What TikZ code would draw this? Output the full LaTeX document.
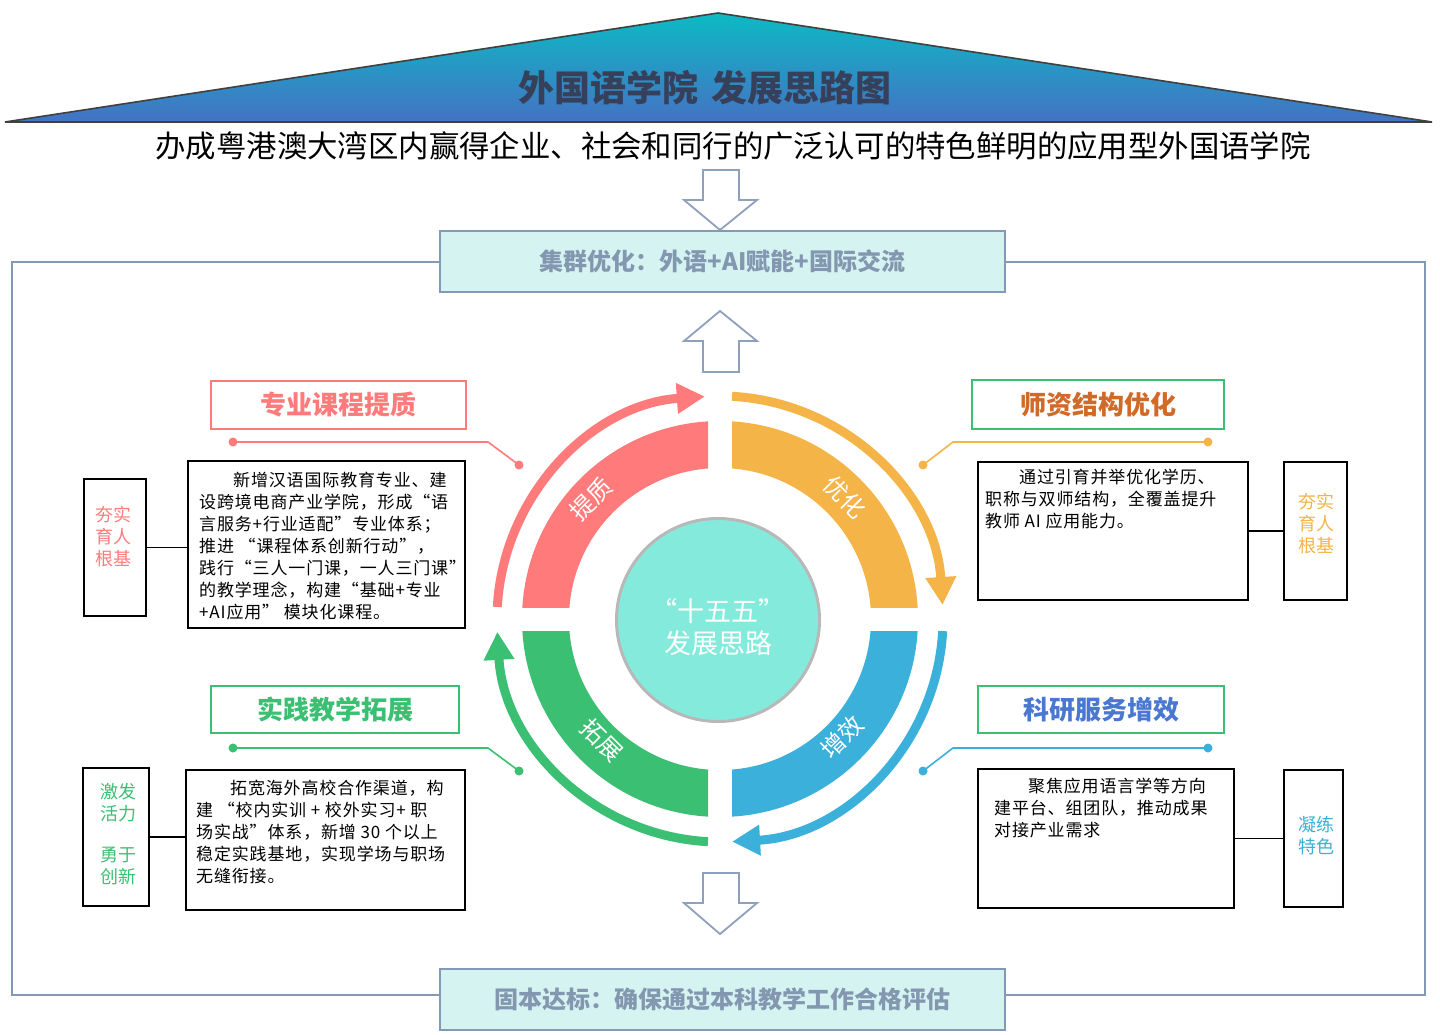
\documentclass[tikz,border=0pt]{standalone}
\usepackage{fontspec}
\setmainfont{Noto Sans CJK SC}
\newfontfamily\bodyfam[LetterSpace=5]{Noto Sans CJK SC}
\usetikzlibrary{arrows.meta}
\definecolor{cred}{HTML}{FF7B7B}
\definecolor{corange}{HTML}{F4B447}
\definecolor{cblue}{HTML}{3AB0DA}
\definecolor{cgreen}{HTML}{3BBF72}
\definecolor{frameblue}{HTML}{8499B5}
\definecolor{arrowblue}{HTML}{8EA0BC}
\definecolor{boxfill}{HTML}{D5F4F1}
\definecolor{boxtext}{HTML}{8497B0}
\definecolor{circfill}{HTML}{84EBDC}
\definecolor{circline}{HTML}{B8B8B8}
\definecolor{titlecol}{HTML}{36405A}
\definecolor{teachcol}{HTML}{D06A28}
\definecolor{scicol}{HTML}{4A78D0}
\definecolor{trtop}{HTML}{0CBAC4}
\definecolor{trmid}{HTML}{2C78C8}
\definecolor{trbot}{HTML}{4472C4}
\newcommand\bodyfont{\bodyfam\fontsize{17}{22}\selectfont}
\newcommand\sidefont{\fontsize{18}{22}\selectfont}
\begin{document}
\begin{tikzpicture}[x=1pt,y=-1pt,
  tbox/.style={draw=black, line width=1.2pt, fill=white, inner sep=0pt},
  qtitle/.style={draw=#1, line width=2pt, fill=white, inner sep=0pt},
  bandbox/.style={draw=frameblue, line width=2pt, fill=boxfill, inner sep=0pt,
     minimum width=565pt, minimum height=61pt, text=boxtext,
     font=\fontsize{24}{27}\selectfont\bfseries},
  bodytext/.style={anchor=north west, align=left, inner sep=0pt, font=\bodyfont},
  sidetext/.style={align=center, inner sep=0pt, font=\sidefont, text=#1},
  hollow/.style={draw=arrowblue, line width=1.8pt, fill=white, line join=miter},
  ringarrow/.style={draw=#1, line width=9pt, -{Triangle[length=28pt,width=29pt]}},
  ringlabel/.style={text=white, inner sep=0pt, font=\fontsize{24}{26}\selectfont},
  callout/.style={draw=#1, line width=1.6pt},
  dot/.style={fill=#1}
]
\useasboundingbox (0,0) rectangle (1440,1035);
\fill[white] (0,0) rectangle (1440,1035);

% roof
\shade[top color=trtop, middle color=trmid, bottom color=trbot] (718,13) -- (1432,122) -- (5,122) -- cycle;
\draw[draw=black!75, line width=1.6pt, line join=miter] (718,13) -- (1432,122) -- (5,122) -- cycle;
\node[text=titlecol, font=\fontsize{36}{40}\selectfont\bfseries] (title) at (705,88) {外国语学院\hspace{0.35em}发展思路图};
\node[text=black, font=\fontsize{30.4}{34}\selectfont] (subtitle) at (733,146) {办成粤港澳大湾区内赢得企业、社会和同行的广泛认可的特色鲜明的应用型外国语学院};

% frame
\draw[draw=frameblue, line width=2.5pt] (12,262) rectangle (1425,995);

% hollow block arrows
\draw[hollow] (703,170) -- (739,170) -- (739,200) -- (757,200) -- (720,230) -- (684,200) -- (703,200) -- cycle;
\draw[hollow] (720,311) -- (757,341) -- (739,341) -- (739,372) -- (703,372) -- (703,341) -- (684,341) -- cycle;
\draw[hollow] (703,873) -- (739,873) -- (739,903) -- (757,903) -- (720,934) -- (684,903) -- (703,903) -- cycle;

% band boxes
\node[bandbox] (topband) at (722.5,261.5) {集群优化：外语+AI赋能+国际交流};
\node[bandbox] (botband) at (722.5,999.5) {固本达标：确保通过本科教学工作合格评估};

% ring quadrants
\coordinate (C) at (720,619);
\begin{scope}
  \clip (400,300) rectangle (708,607);
  \fill[cred, even odd rule] (C) circle[radius=198] (C) circle[radius=151];
\end{scope}
\begin{scope}
  \clip (732,300) rectangle (1050,607);
  \fill[corange, even odd rule] (C) circle[radius=198] (C) circle[radius=151];
\end{scope}
\begin{scope}
  \clip (732,631) rectangle (1050,950);
  \fill[cblue, even odd rule] (C) circle[radius=198] (C) circle[radius=151];
\end{scope}
\begin{scope}
  \clip (400,631) rectangle (708,950);
  \fill[cgreen, even odd rule] (C) circle[radius=198] (C) circle[radius=151];
\end{scope}

% ring arrows
\draw[ringarrow=cred] (C) ++(183.1:223) arc[start angle=183.1, end angle=266.1, radius=223];
\draw[ringarrow=corange] (C) ++(273.1:223) arc[start angle=273.1, end angle=356.4, radius=223];
\draw[ringarrow=cblue] (C) ++(3.1:223) arc[start angle=3.1, end angle=86.9, radius=223];
\draw[ringarrow=cgreen] (C) ++(93.1:223) arc[start angle=93.1, end angle=176.7, radius=223];

% ring labels
\node[ringlabel, rotate=45] (lq1) at (591,499) {提质};
\node[ringlabel, rotate=-45] (lq2) at (845,497) {优化};
\node[ringlabel, rotate=45] (lq3) at (842,737) {增效};
\node[ringlabel, rotate=-45] (lq4) at (602,740) {拓展};

% centre
\node[circle, fill=circfill, draw=circline, line width=3pt, minimum size=203pt, inner sep=0pt] (centre) at (718,620) {};
\node[text=white, align=center, inner sep=0pt, font=\fontsize{27}{32}\selectfont] (centretext) at (718,627) {“十五五”\\发展思路};

% quadrant titles
\node[qtitle=cred, minimum width=255pt, minimum height=48pt, text=cred, font=\fontsize{26}{30}\selectfont\bfseries] (t1) at (338.5,405) {专业课程提质};
\node[qtitle=cgreen, minimum width=252pt, minimum height=49pt, text=teachcol, font=\fontsize{26}{30}\selectfont\bfseries] (t2) at (1098,404.5) {师资结构优化};
\node[qtitle=cgreen, minimum width=248pt, minimum height=47pt, text=cgreen, font=\fontsize{26}{30}\selectfont\bfseries] (t3) at (335,709.5) {实践教学拓展};
\node[qtitle=cgreen, minimum width=246pt, minimum height=47pt, text=scicol, font=\fontsize{26}{30}\selectfont\bfseries] (t4) at (1101,709.5) {科研服务增效};

% callouts
\coordinate (r1) at (233,442); \coordinate (r2) at (488,442); \coordinate (r3) at (519,465);
\draw[callout=cred] (r1) -- (r2) -- (r3);
\fill[dot=cred] (r1) circle[radius=4.5]; \fill[dot=cred] (r3) circle[radius=4.5];
\coordinate (o1) at (1208,442); \coordinate (o2) at (953,442); \coordinate (o3) at (923,465);
\draw[callout=corange] (o1) -- (o2) -- (o3);
\fill[dot=corange] (o1) circle[radius=4.5]; \fill[dot=corange] (o3) circle[radius=4.5];
\coordinate (g1) at (233,748); \coordinate (g2) at (488,748); \coordinate (g3) at (519,771);
\draw[callout=cgreen] (g1) -- (g2) -- (g3);
\fill[dot=cgreen] (g1) circle[radius=4.5]; \fill[dot=cgreen] (g3) circle[radius=4.5];
\coordinate (b1) at (1208,748); \coordinate (b2) at (953,748); \coordinate (b3) at (923,771);
\draw[callout=cblue] (b1) -- (b2) -- (b3);
\fill[dot=cblue] (b1) circle[radius=4.5]; \fill[dot=cblue] (b3) circle[radius=4.5];

% text boxes
\node[tbox, minimum width=277pt, minimum height=167pt] (lt) at (326.5,544.5) {};
\node[tbox, minimum width=270pt, minimum height=138pt] (rt) at (1113,531) {};
\node[tbox, minimum width=279pt, minimum height=140pt] (lb) at (325.5,840) {};
\node[tbox, minimum width=256pt, minimum height=139pt] (rb) at (1106,838.5) {};

\node[bodytext] (ltx) at (199,472) {\hspace*{2em}新增汉语国际教育专业、建\\设跨境电商产业学院，形成“语\\言服务+行业适配”专业体系；\\推进 “课程体系创新行动”，\\践行“三人一门课，一人三门课”\\的教学理念，构建“基础+专业\\+AI应用” 模块化课程。};
\node[bodytext] (rtx) at (985,469) {\hspace*{2em}通过引育并举优化学历、\\职称与双师结构，全覆盖提升\\教师 AI 应用能力。};
\node[bodytext] (lbx) at (196,780) {\hspace*{2em}拓宽海外高校合作渠道，构\\建 “校内实训 + 校外实习+ 职\\场实战”体系，新增 30 个以上\\稳定实践基地，实现学场与职场\\无缝衔接。};
\node[bodytext] (rbx) at (994,778) {\hspace*{2em}聚焦应用语言学等方向\\建平台、组团队，推动成果\\对接产业需求};

% side boxes
\node[tbox, minimum width=62pt, minimum height=137pt] (lts) at (115,547.5) {};
\node[tbox, minimum width=63pt, minimum height=138pt] (rts) at (1315.5,531) {};
\node[tbox, minimum width=66pt, minimum height=138pt] (lbs) at (116,837) {};
\node[tbox, minimum width=59pt, minimum height=137pt] (rbs) at (1313.5,838.5) {};

\node[sidetext=cred] (ltst) at (113,537) {夯实\\育人\\根基};
\node[sidetext=corange] (rtst) at (1316,524) {夯实\\育人\\根基};
\node[sidetext=cgreen] (lbst) at (118,834) {激发\\活力\\[19pt]勇于\\创新};
\node[sidetext=cblue] (rbst) at (1316,836) {凝练\\特色};

% connectors
\draw[black, line width=1.2pt] (lts.east) -- (lts.east -| lt.west);
\draw[black, line width=1.2pt] (rt.east) -- (rt.east -| rts.west);
\draw[black, line width=1.2pt] (lbs.east) -- (lbs.east -| lb.west);
\draw[black, line width=1.2pt] (rb.east) -- (rb.east -| rbs.west);
\end{tikzpicture}
\end{document}
